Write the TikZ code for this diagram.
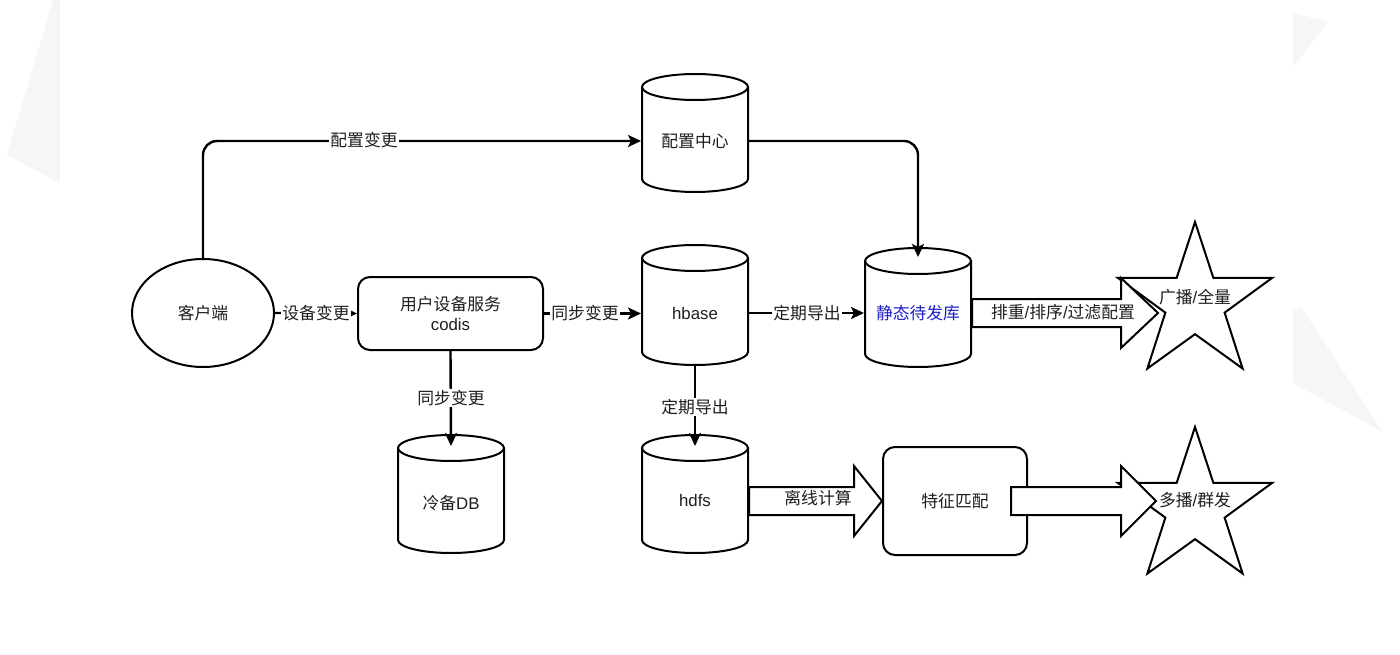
\documentclass[tikz,border=0pt]{standalone}
\usepackage{fontspec}
\setmainfont{Noto Sans CJK SC}
\newfontfamily\lat{Liberation Sans}
\usetikzlibrary{shapes.geometric,arrows.meta,calc}
\definecolor{bgtri}{RGB}{246,246,246}
\definecolor{txt}{RGB}{30,30,30}
\definecolor{bluetxt}{RGB}{30,30,200}
\newcommand\cylshape[4]{%
  \node[body, minimum height={(#4-#3)*1pt}] (#1) at (#2,{(#3+#4)/2}) {};
  \draw[fill=white] (#2-53,#3+13) -- (#2-53,#4-13) arc[start angle=180,end angle=0,x radius=53,y radius=13] -- (#2+53,#3+13);
  \draw[fill=white] (#2,#3+13) ellipse[x radius=53,y radius=13];
}
\newcommand\fatarrow[3]{%
  \draw[fat] ($(#1)+(0,-14)$) -- ($(#2)+(-#3,-14)$) -- ($(#2)+(-#3,-35)$) -- (#2)
    -- ($(#2)+(-#3,35)$) -- ($(#2)+(-#3,14)$) -- ($(#1)+(0,14)$) -- cycle;
}
\begin{document}
\begin{tikzpicture}[x=1pt,y=-1pt, line width=2pt,
  font=\fontsize{16.8}{20.5}\selectfont, text=txt,
  lbl/.style={fill=white, inner sep=1.5pt, text=txt},
  conn/.style={draw=black, line width=2.4pt, rounded corners=14pt},
  arr/.style={-{Stealth[length=13pt,width=12pt,inset=3pt]}},
  body/.style={draw=none, minimum width=106pt, inner sep=0},
  fat/.style={draw=black, line width=2pt, fill=white, line join=miter},
  starbox/.style={star, star points=5, star point ratio=2.6, minimum size=162pt, inner sep=0pt, draw, line width=2pt},
  boxnode/.style={draw, line width=2pt, rounded corners=12pt, align=center}
]
\fill[white] (0,0) rectangle (1400,655);
\useasboundingbox (0,0) rectangle (1400,655);
% faint background shapes
\fill[bgtri] (53,0) -- (60,0) -- (60,183) -- (7,155) -- cycle;
\fill[bgtri] (1293,13) -- (1328,22) -- (1293,67) -- cycle;
\fill[bgtri] (1293,310) -- (1301,307) -- (1383,432) -- (1293,383) -- cycle;

% stars
\node[starbox] (s1) at (1195,303) {};
\node[starbox] (s2) at (1195,508) {};

% cylinders
\cylshape{pz}{695}{74}{192}
\cylshape{hb}{695}{245}{365}
\cylshape{sjk}{918}{248}{367}
\cylshape{ldb}{451}{435}{553}
\cylshape{hd}{695}{435}{553}
\node (pzt) at (695,141) {配置中心};
\node (hbt) at (695,313) {\lat hbase};
\node[text=bluetxt] (sjkt) at (918,313) {静态待发库};
\node (ldbt) at (451,503) {冷备{\lat DB}};
\node (hdt) at (695,500) {\lat hdfs};

% other nodes
\node[draw, ellipse, line width=2pt, minimum width=142pt, minimum height=108pt, inner sep=0] (khd) at (203,313) {客户端};
\node[boxnode, minimum width=185pt, minimum height=73pt] (cod) at (450.5,313.5) {用户设备服务\\[-1pt]{\lat codis}};
\node[boxnode, minimum width=144pt, minimum height=108pt] (tz) at (955,501) {特征匹配};

% connectors
\draw[conn,arr] (khd.north) |- (pz.west |- pzt);
\draw[conn,arr] (pz.east |- pzt) -| ($(sjk.north)+(0,10)$);
\draw[conn,arr] (khd.east) -- (cod.west);
\draw[conn,arr] (cod.east) -- (cod.east -| hb.west);
\draw[conn,arr] (hb.east |- hbt) -- (sjk.west |- hbt);
\draw[conn,arr] (cod.south) -- ($(ldb.north)+(0,12)$);
\draw[conn,arr] (hb.south) -- ($(hd.north)+(0,12)$);

% fat arrows
\coordinate (f1s) at (sjk.east |- sjkt);
\coordinate (f1t) at ($(f1s)+(186,0)$);
\fatarrow{f1s}{f1t}{37}
\coordinate (f2s) at ($(tz.east)+(-17,0)$);
\coordinate (f2t) at ($(tz.east)+(128,0)$);
\fatarrow{f2s}{f2t}{35}
\coordinate (f3s) at (hd.east |- tz);
\fatarrow{f3s}{tz.west}{28}

% labels
\node[lbl] (l1) at (364,140) {配置变更};
\node[lbl] (l2) at (316,313) {设备变更};
\node[lbl] (l3) at (585,313) {同步变更};
\node[lbl] (l4) at (807,313) {定期导出};
\node[lbl] (l5) at (451,398) {同步变更};
\node[lbl] (l6) at (695,407) {定期导出};
\node (l7) at (1063,312) {排重{\lat /}排序{\lat /}过滤配置};
\node (l8) at (818,498) {离线计算};
\node (s1t) at (1195,297) {广播{\lat /}全量};
\node (s2t) at (1195,500) {多播{\lat /}群发};
\end{tikzpicture}
\end{document}
